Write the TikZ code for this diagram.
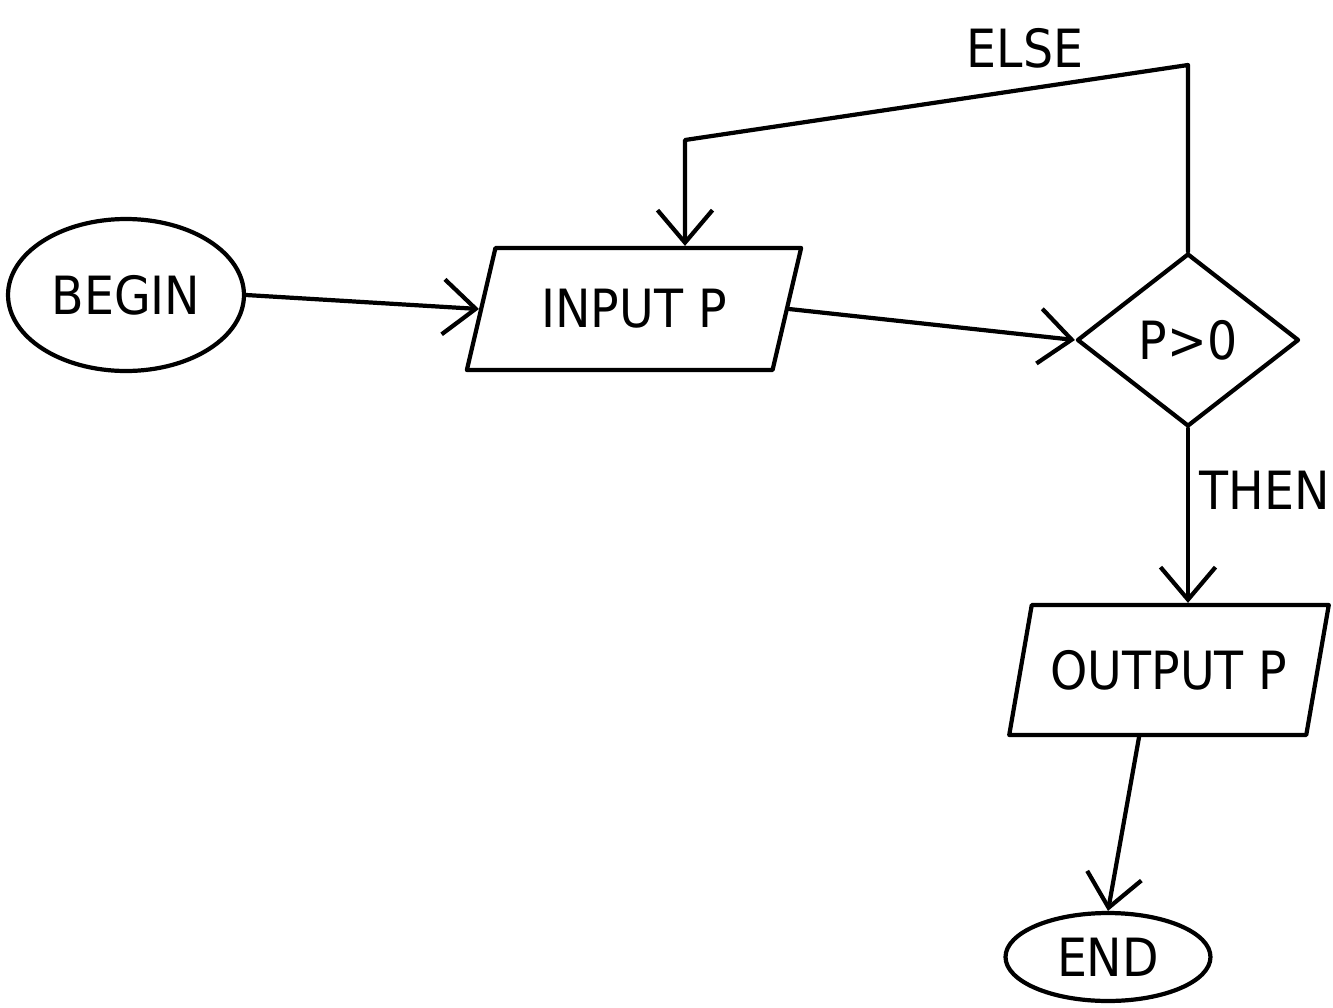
\documentclass[tikz,border=0pt]{standalone}
\usepackage{fontspec}
\setmainfont{DejaVu Sans Condensed}
\usetikzlibrary{shapes.geometric,arrows.meta}
\begin{document}
\begin{tikzpicture}[x=0.02cm,y=-0.02cm,
  every node/.style={font=\fontsize{30}{34}\selectfont},
  stroke/.style={line width=2.4pt,line join=round,line cap=round},
  terminal/.style={stroke,draw,ellipse,inner sep=0pt},
  iobox/.style={stroke,draw,trapezium,trapezium left angle=64,trapezium right angle=116,
    trapezium stretches=true,inner sep=0pt},
  decision/.style={stroke,draw,diamond,inner sep=0pt},
  flow/.style={stroke,-{Straight Barb[length=0.65cm,width=1.1cm,line width=2.4pt]}},
  lbl/.style={inner sep=2pt}]
\useasboundingbox (0,0) rectangle (1333,1008);

% blocks
\node[terminal,minimum width=4.72cm,minimum height=3.04cm] (begin) at (126,295) {BEGIN};
\node[iobox,minimum width=6.7cm,minimum height=2.44cm] (input) at (634,309) {INPUT P};
\node[decision,minimum width=4.44cm,minimum height=3.46cm] (dec) at (1188,340) {P>0};
\node[iobox,minimum width=6.4cm,minimum height=2.6cm] (output) at (1169,670) {OUTPUT P};
\node[terminal,minimum width=4.1cm,minimum height=1.76cm] (end) at (1108,957) {END};

% loop-back route
\coordinate (elseR) at (1188,65);
\coordinate (elseL) at (685,140);

% connectors
\draw[flow] (begin.east) -- (input.west);
\draw[flow] (input.east) -- (dec.west);
\draw[flow] (dec.north) -- (elseR) -- (elseL) -- (elseL |- input.north);
\draw[flow] (dec.south) -- (dec.south |- output.north);
\draw[flow] ([xshift=-0.6cm]output.south) -- (end.north);

% branch labels
\node[lbl] (elselbl) at (1025,48) {ELSE};
\node[lbl,anchor=west] (thenlbl) at (1196,490) {THEN};
\end{tikzpicture}
\end{document}
